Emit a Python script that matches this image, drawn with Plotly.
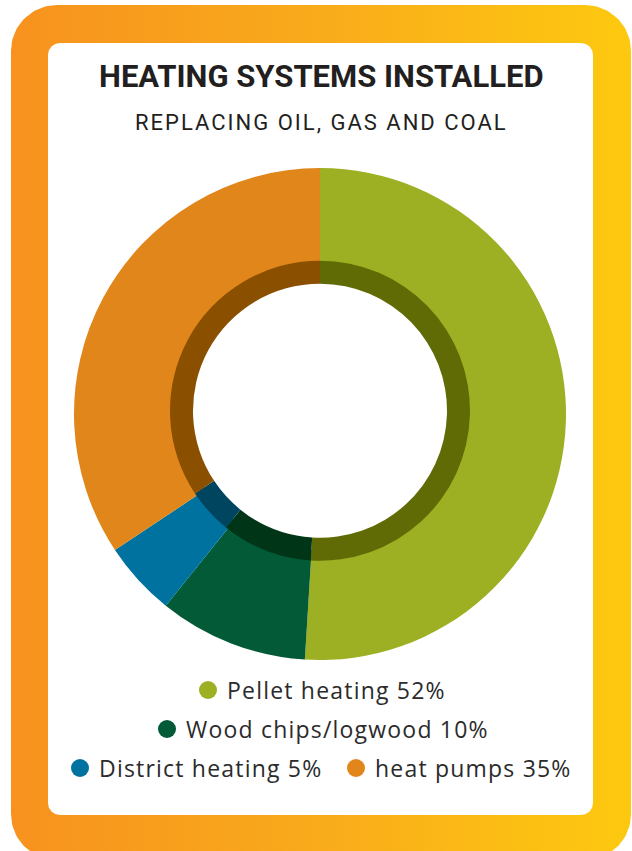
import numpy as np
import plotly.graph_objects as go

# ---- data ----
categories = ["Pellet heating", "Wood chips/logwood", "District heating", "heat pumps"]
shares = [52, 10, 5, 35]
colors = ["#9DAF22", "#035A36", "#00729F", "#E0861A"]
dark_colors = ["#616B06", "#003518", "#004560", "#8A5000"]
title_text = "HEATING SYSTEMS INSTALLED"
subtitle_text = "REPLACING OIL, GAS AND COAL"

W, H = 632, 851


def rounded_rect(x0, y0, x1, y1, r, n=24):
    xs, ys = [], []
    corners = [
        (x1 - r, y0 + r, -90, 0),
        (x1 - r, y1 - r, 0, 90),
        (x0 + r, y1 - r, 90, 180),
        (x0 + r, y0 + r, 180, 270),
    ]
    for cx, cy, a0, a1 in corners:
        t = np.radians(np.linspace(a0, a1, n))
        xs.extend(cx + r * np.cos(t))
        ys.extend(cy + r * np.sin(t))
    xs.append(xs[0])
    ys.append(ys[0])
    return xs, ys


fig = go.Figure()

# outer gradient frame
ox, oy = rounded_rect(11, 5, 631, 860, 46)
fig.add_trace(go.Scatter(
    x=ox, y=oy, mode="lines", line=dict(width=0), fill="toself",
    fillgradient=dict(type="horizontal",
                      colorscale=[[0, "#F7921E"], [0.5, "#F9AB1B"], [1, "#FDC90F"]]),
    hoverinfo="skip", showlegend=False))

# inner white card
ix, iy = rounded_rect(48, 43, 593, 815, 12)
fig.add_trace(go.Scatter(
    x=ix, y=iy, mode="lines", line=dict(width=0), fill="toself",
    fillcolor="white", hoverinfo="skip", showlegend=False))

# donut (outer)
cx, cy, R = 320, 414, 246
fig.add_trace(go.Pie(
    labels=categories, values=shares, sort=False, direction="clockwise",
    rotation=0, hole=136 / R, textinfo="none", hoverinfo="skip",
    marker=dict(colors=colors, line=dict(width=0)), showlegend=False,
    domain=dict(x=[(cx - R) / W, (cx + R) / W],
                y=[(H - cy - R) / H, (H - cy + R) / H])))

# inner dark ring
cy2, R2 = 410.7, 150
fig.add_trace(go.Pie(
    labels=categories, values=shares, sort=False, direction="clockwise",
    rotation=0, hole=127 / R2, textinfo="none", hoverinfo="skip",
    marker=dict(colors=dark_colors, line=dict(width=0)), showlegend=False,
    domain=dict(x=[(cx - R2) / W, (cx + R2) / W],
                y=[(H - cy2 - R2) / H, (H - cy2 + R2) / H])))

# custom legend
legend_rows = [
    [(0, 208, 690)],
    [(1, 167, 729)],
    [(2, 80, 768), (3, 356, 768)],
]
anns = []
for row in legend_rows:
    for idx, mx, my in row:
        fig.add_trace(go.Scatter(
            x=[mx], y=[my], mode="markers",
            marker=dict(size=18, color=colors[idx], line=dict(width=0)),
            hoverinfo="skip", showlegend=False))
        anns.append(dict(
            x=mx + 17, y=my, xref="x", yref="y", xanchor="left", yanchor="middle",
            text=f"<span style='letter-spacing:1.2px'>{categories[idx]} {shares[idx]}%</span>",
            showarrow=False,
            font=dict(family="Open Sans", size=23, color="#2B2B2B")))

anns.append(dict(x=321, y=76, xref="x", yref="y", xanchor="center", yanchor="middle",
                 text=f"<b>{title_text}</b>", showarrow=False,
                 font=dict(family="Roboto", size=31, color="#231F20")))
anns.append(dict(x=321, y=122, xref="x", yref="y", xanchor="center", yanchor="middle",
                 text=f"<span style='letter-spacing:2px'>{subtitle_text}</span>",
                 showarrow=False,
                 font=dict(family="Roboto", size=22, color="#231F20")))

fig.update_layout(
    width=W, height=H, margin=dict(l=0, r=0, t=0, b=0),
    paper_bgcolor="white", plot_bgcolor="rgba(0,0,0,0)",
    xaxis=dict(range=[0, W], visible=False, fixedrange=True),
    yaxis=dict(range=[H, 0], visible=False, fixedrange=True),
    annotations=anns, showlegend=False,
)

fig.write_html("out.html", config={"displayModeBar": False},
               post_script="document.body.style.margin='0';document.body.style.overflow='hidden';")
